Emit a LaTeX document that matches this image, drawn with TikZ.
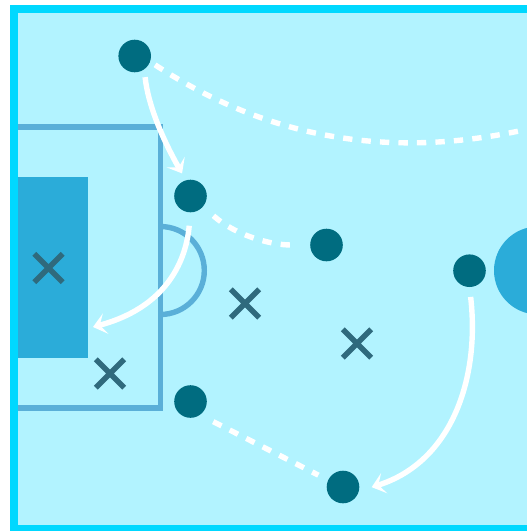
\documentclass[tikz,border=0pt]{standalone}
\usetikzlibrary{arrows.meta,shapes.misc}
\definecolor{pitchbg}{HTML}{B2F3FF}
\definecolor{pitchedge}{HTML}{00D8FF}
\definecolor{markline}{HTML}{5AAFD8}
\definecolor{zonefill}{HTML}{2BACD9}
\definecolor{playerfill}{HTML}{006C80}
\definecolor{crosscol}{HTML}{2F6A7D}
\tikzset{
  player/.style={circle,fill=playerfill,draw=none,inner sep=0pt,outer sep=0pt,minimum size=32.6pt},
  opp/.style={cross out,draw=crosscol,line width=5.6pt,inner sep=0pt,outer sep=0pt,minimum size=28.4pt},
  markstroke/.style={draw=markline,line width=5.4pt},
  run/.style={draw=white,line width=5.4pt,-{Stealth[length=13pt,width=21pt,inset=6pt]}},
  pass/.style={draw=white,line width=5.4pt,dash pattern=on 9.3pt off 9.2pt}
}
\begin{document}
\begin{tikzpicture}[x=1pt,y=-1pt]
\useasboundingbox (0,0) rectangle (527,531);
\fill[white] (0,0) rectangle (527,531);
\fill[pitchedge] (10,4.7) rectangle (527,531);
\fill[pitchbg] (18,13) rectangle (527,525);
\begin{scope}
\clip (18,13) rectangle (527,525);
\fill[zonefill] (538,270.5) circle (44);
\end{scope}
\fill[zonefill] (18,177) rectangle (87.5,358);
\draw[markstroke,line cap=butt] (18,127) -- (160.3,127) -- (160.3,408) -- (18,408);
\draw[markstroke] (160.3,226.5) arc[start angle=-90,end angle=90,radius=44];

\node[player] (p1) at (134.7,56) {};
\node[player] (p2) at (190.5,196) {};
\node[player] (p3) at (326.5,245) {};
\node[player] (p4) at (469.5,270.7) {};
\node[player] (p5) at (190.5,401.5) {};
\node[player] (p6) at (343,487) {};
\node[opp] (x1) at (48.5,268) {};
\node[opp] (x2) at (110,373.5) {};
\node[opp] (x3) at (245,303.5) {};
\node[opp] (x4) at (357,343.5) {};
\coordinate (goalend) at (93,327);
\coordinate (edgeend) at (519,131);

\draw[run,shorten <=8pt,shorten >=8pt] (p1.-54) .. controls (148,105) and (163,140) .. (p2.106);
\draw[run,shorten <=13.5pt] (p2.-90) .. controls (187,250) and (175,305) .. (goalend);
\draw[run,shorten <=10pt,shorten >=13.6pt] (p4.-90) .. controls (480,378) and (452,462) .. (p6.-15);
\draw[pass,shorten <=6pt] (p1.-20) .. controls (270,140) and (390,158) .. (edgeend);
\draw[pass,shorten <=14pt,shorten >=19pt] (p2.-40) .. controls (235,235) and (270,245) .. (p3.180);
\draw[pass,shorten <=15pt,shorten >=11pt] (p5.-55) -- (p6.155);
\end{tikzpicture}
\end{document}
